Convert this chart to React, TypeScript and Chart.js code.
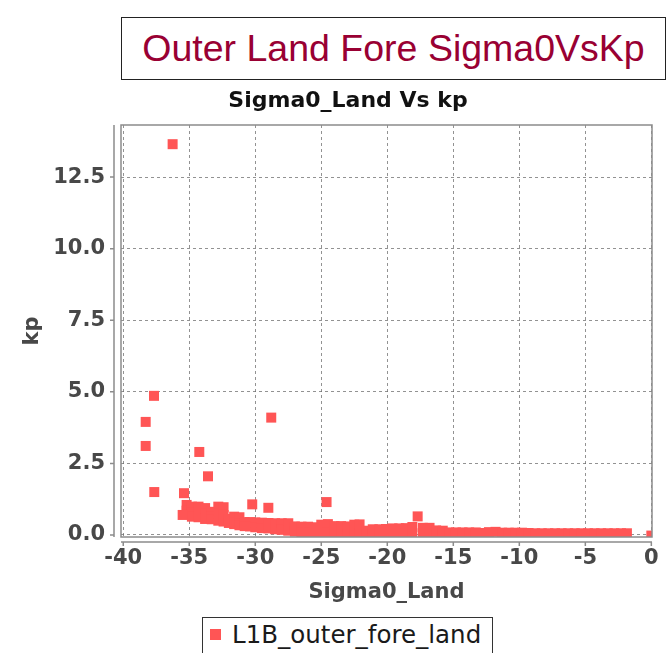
import React, { useEffect, useRef } from "react";
import { Chart, registerables } from "chart.js";

Chart.register(...registerables);

const chartTitle = "Outer Land Fore Sigma0VsKp";
const plotTitle = "Sigma0_Land Vs kp";
const xAxisTitle = "Sigma0_Land";
const yAxisTitle = "kp";
const seriesLabel = "L1B_outer_fore_land";

const xTickValues = [-40, -35, -30, -25, -20, -15, -10, -5, 0];
const yTickValues = [0, 2.5, 5, 7.5, 10, 12.5];

// isolated points
const outlierSigma0 = [-36.26, -37.67, -38.3, -38.3, -37.65, -34.24, -33.58, -28.79, -35.4, -35.5, -30.23, -29.01, -24.6, -17.7, 0.0];
const outlierKp = [13.65, 4.86, 3.95, 3.11, 1.5, 2.9, 2.05, 4.1, 1.46, 0.7, 1.07, 0.95, 1.15, 0.65, -0.02];

// dense band of points along the bottom
const bandSigma0 = [
  -35.2, -35.2,
  -34.8, -34.8, -34.8,
  -34.3, -34.3, -34.3,
  -33.8, -33.8, -33.8,
  -33.3, -33.3, -33.3,
  -32.8, -32.8, -32.8,
  -32.4, -32.4, -32.4,
  -32.0, -32.0,
  -31.6, -31.6, -31.6,
  -31.2, -31.2, -31.2,
  -30.8, -30.8,
  -30.4, -30.4,
  -30.0, -30.0,
  -29.5, -29.5,
  -29.0, -29.0,
  -28.5, -28.5,
  -28.0, -28.0,
  -27.5, -27.5,
  -27.0, -27.0,
  -26.5, -26.5,
  -26.0, -26.0,
  -25.5, -25.5,
  -25.0, -25.0,
  -24.5, -24.5,
  -24.0, -24.0,
  -23.5, -23.5,
  -23.0, -23.0,
  -22.5, -22.5,
  -22.1, -22.1,
  -21.6, -21.6,
  -21.1, -21.1,
  -20.6, -20.6,
  -20.1, -20.1,
  -19.6, -19.6,
  -19.1, -19.1,
  -18.6, -18.6,
  -18.1, -18.1,
  -17.3, -17.3,
  -16.8, -16.8,
  -16.3, -16.3,
  -15.8, -15.8,
  -15.3, -14.8, -14.3, -13.8, -13.3,
  -12.8, -12.3, -11.8, -11.3,
  -10.8, -10.3, -9.8, -9.3, -8.8, -8.3, -7.8, -7.3, -6.8, -6.3,
  -5.8, -5.3, -4.8, -4.3, -3.8, -3.3, -2.8, -2.3, -1.85,
];
const bandKp = [
  1.05, 0.85,
  0.99, 0.78, 0.64,
  0.99, 0.8, 0.62,
  0.94, 0.75, 0.56,
  0.81, 0.66, 0.55,
  0.99, 0.75, 0.5,
  0.97, 0.7, 0.47,
  0.56, 0.42,
  0.64, 0.45, 0.38,
  0.62, 0.4, 0.34,
  0.45, 0.31,
  0.45, 0.3,
  0.44, 0.27,
  0.43, 0.24,
  0.42, 0.23,
  0.41, 0.2,
  0.41, 0.18,
  0.41, 0.15,
  0.3, 0.12,
  0.29, 0.1,
  0.29, 0.08,
  0.27, 0.07,
  0.36, 0.07,
  0.38, 0.1,
  0.31, 0.07,
  0.31, 0.06,
  0.3, 0.06,
  0.36, 0.06,
  0.37, 0.07,
  0.15, 0.06,
  0.2, 0.06,
  0.2, 0.06,
  0.21, 0.06,
  0.23, 0.06,
  0.23, 0.07,
  0.24, 0.06,
  0.28, 0.06,
  0.25, 0.07,
  0.25, 0.06,
  0.16, 0.06,
  0.15, 0.06,
  0.09, 0.09, 0.09, 0.09, 0.09,
  0.07, 0.1, 0.11, 0.08,
  0.08, 0.08, 0.08, 0.07, 0.06, 0.06, 0.06, 0.06, 0.06, 0.06,
  0.06, 0.06, 0.06, 0.06, 0.06, 0.06, 0.06, 0.06, 0.06,
];

const POINT_COLOR = "#FF5555";
const AXIS_FONT = { family: "'DejaVu Sans', sans-serif", size: 21, weight: "bold" as const };
const TEXT_GRAY = "#484848";

const axisFramePlugin = {
  id: "axisFrame",
  afterDatasetsDraw(chart: any) {
    const { ctx, chartArea } = chart;
    const { left, right, top, bottom } = chartArea;
    const xs = chart.scales.x;
    const ys = chart.scales.y;
    ctx.save();
    ctx.strokeStyle = "#8c8c8c";
    ctx.lineWidth = 1.5;
    ctx.strokeRect(left, top, right - left, bottom - top);
    ctx.beginPath();
    const ax = left - 7;
    ctx.moveTo(ax, top);
    ctx.lineTo(ax, bottom);
    ys.ticks.forEach((t: any) => {
      const py = ys.getPixelForValue(t.value);
      ctx.moveTo(ax - 4, py);
      ctx.lineTo(ax, py);
    });
    const ay = bottom + 5;
    ctx.moveTo(left, ay);
    ctx.lineTo(right, ay);
    xs.ticks.forEach((t: any) => {
      const px = xs.getPixelForValue(t.value);
      ctx.moveTo(px, ay);
      ctx.lineTo(px, ay + 4);
    });
    ctx.stroke();
    ctx.restore();
  },
};

export default function App() {
  const canvasRef = useRef<HTMLCanvasElement | null>(null);

  useEffect(() => {
    if (!canvasRef.current) return;
    const points = [
      ...bandSigma0.map((x, i) => ({ x, y: bandKp[i] })),
      ...outlierSigma0.map((x, i) => ({ x, y: outlierKp[i] })),
    ];
    const chart = new Chart(canvasRef.current, {
      type: "scatter",
      data: {
        datasets: [
          {
            label: seriesLabel,
            data: points,
            pointStyle: "rect",
            pointRadius: 7.07,
            pointHoverRadius: 7.07,
            pointBorderWidth: 0,
            backgroundColor: POINT_COLOR,
            borderColor: POINT_COLOR,
          },
        ],
      },
      options: {
        responsive: false,
        animation: false,
        events: [],
        layout: { padding: { top: 125, right: 20, left: 0, bottom: 0 } },
        plugins: {
          legend: { display: false },
          title: { display: false },
          tooltip: { enabled: false },
        },
        scales: {
          x: {
            type: "linear",
            min: -40.17,
            max: 0.05,
            afterFit: (s: any) => {
              s.height = 116;
            },
            afterBuildTicks: (s: any) => {
              s.ticks = xTickValues.map((v) => ({ value: v }));
            },
            ticks: {
              font: AXIS_FONT,
              color: TEXT_GRAY,
              padding: 9,
              maxRotation: 0,
              callback: (v: any) => String(v),
            },
            grid: {
              color: "rgba(110,110,110,0.75)",
              lineWidth: 1,
              drawTicks: false,
            },
            border: { display: false, dash: [3, 3] },
            title: {
              display: true,
              text: xAxisTitle,
              font: AXIS_FONT,
              color: TEXT_GRAY,
              padding: { top: 0, bottom: 48 },
            },
          },
          y: {
            type: "linear",
            min: -0.07,
            max: 14.32,
            afterFit: (s: any) => {
              s.width = 121;
            },
            afterBuildTicks: (s: any) => {
              s.ticks = yTickValues.map((v) => ({ value: v }));
            },
            ticks: {
              font: AXIS_FONT,
              color: TEXT_GRAY,
              padding: 16,
              callback: (v: any) => Number(v).toFixed(1),
            },
            grid: {
              color: "rgba(110,110,110,0.75)",
              lineWidth: 1,
              drawTicks: false,
            },
            border: { display: false, dash: [3, 3] },
            title: {
              display: true,
              text: yAxisTitle,
              font: AXIS_FONT,
              color: TEXT_GRAY,
              padding: { top: 20, bottom: 0 },
            },
          },
        },
      },
      plugins: [axisFramePlugin],
    });
    return () => chart.destroy();
  }, []);

  return (
    <div
      style={{
        position: "absolute",
        left: 0,
        top: 0,
        width: 672,
        height: 653,
        overflow: "hidden",
        background: "#ffffff",
      }}
    >
      <canvas
        ref={canvasRef}
        width={672}
        height={653}
        style={{ position: "absolute", left: 0, top: 0, width: 672, height: 653 }}
      />
      <div
        style={{
          position: "absolute",
          left: 121,
          top: 17,
          width: 545,
          height: 63,
          boxSizing: "border-box",
          border: "1.5px solid #222222",
          display: "flex",
          alignItems: "center",
          justifyContent: "center",
          fontFamily: "'Liberation Sans', Arial, sans-serif",
          fontSize: 37.5,
          color: "#990033",
          whiteSpace: "nowrap",
          background: "#ffffff",
        }}
      >
        {chartTitle}
      </div>
      <div
        style={{
          position: "absolute",
          left: 148,
          width: 400,
          top: 86,
          height: 28,
          lineHeight: "28px",
          textAlign: "center",
          fontFamily: "'DejaVu Sans', sans-serif",
          fontWeight: "bold",
          fontSize: 22,
          color: "#111111",
          whiteSpace: "nowrap",
        }}
      >
        {plotTitle}
      </div>
      <div
        style={{
          position: "absolute",
          left: 202,
          top: 617,
          width: 291,
          height: 50,
          boxSizing: "border-box",
          border: "1.5px solid #333333",
          background: "#ffffff",
        }}
      >
        <div
          style={{
            position: "absolute",
            left: 7,
            top: 11,
            width: 11,
            height: 11,
            background: POINT_COLOR,
          }}
        />
        <div
          style={{
            position: "absolute",
            left: 29,
            top: 2,
            height: 30,
            lineHeight: "30px",
            fontFamily: "'DejaVu Sans', sans-serif",
            fontWeight: "normal",
            fontSize: 24.5,
            color: "#1a1a1a",
            whiteSpace: "nowrap",
          }}
        >
          {seriesLabel}
        </div>
      </div>
    </div>
  );
}
